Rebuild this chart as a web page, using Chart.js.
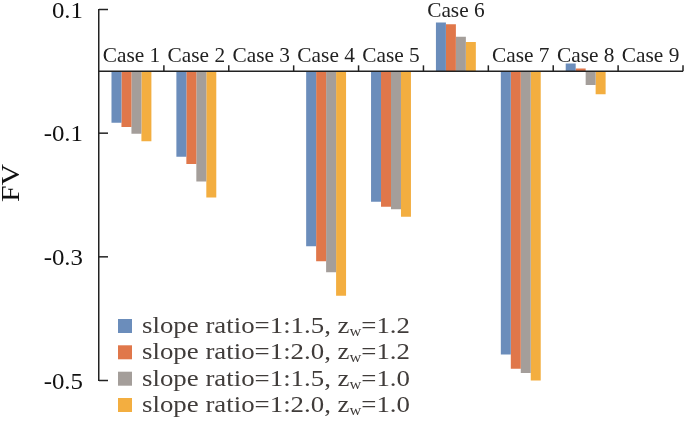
<!DOCTYPE html>
<html>
<head>
<meta charset="utf-8">
<script src="https://cdn.jsdelivr.net/npm/chart.js@4.4.1/dist/chart.umd.min.js"></script>
<style>
  html, body { margin: 0; padding: 0; background: #fff; }
  #wrap { width: 685px; height: 423px; position: relative; }
</style>
</head>
<body>
<div id="wrap"><canvas id="fv"></canvas></div>
<script>
// categories along the zero line
const cases = ['Case 1', 'Case 2', 'Case 3', 'Case 4', 'Case 5', 'Case 6', 'Case 7', 'Case 8', 'Case 9'];

// FV for each setting
const r15z12 = [-0.083, -0.138, 0, -0.283, -0.211, 0.079, -0.458, 0.0125, 0];
const r20z12 = [-0.090, -0.150, 0, -0.307, -0.219, 0.076, -0.481, 0.0045, 0];
const r15z10 = [-0.101, -0.178, 0, -0.325, -0.223, 0.056, -0.488, -0.022, 0];
const r20z10 = [-0.113, -0.204, 0, -0.363, -0.235, 0.0475, -0.505, -0.037, 0];

// legend parts
const slopeRatios = ['1:1.5', '1:2.0', '1:1.5', '1:2.0'];
const zwValues = ['1.2', '1.2', '1.0', '1.0'];
const colors = ['#6b8dbb', '#e0774a', '#a49e9a', '#f3ae40'];

// y axis
const yTicks = [0.1, -0.1, -0.3, -0.5];
const yTickLabels = ['0.1', '-0.1', '-0.3', '-0.5'];

const serif = '"Liberation Serif", "Times New Roman", serif';

// draws text squeezed/stretched along x
function wideText(ctx, text, x, y, sx) {
  ctx.save();
  ctx.translate(x, y);
  ctx.scale(sx, 1);
  ctx.fillText(text, 0, 0);
  ctx.restore();
}

const decor = {
  id: 'decor',
  afterDatasetsDraw(chart) {
    const ctx = chart.ctx;
    const xs = chart.scales.x;
    const ys = chart.scales.y;
    const area = chart.chartArea;
    const y0 = ys.getPixelForValue(0);

    ctx.save();
    ctx.strokeStyle = '#222';
    ctx.lineWidth = 1.5;

    // zero line
    ctx.beginPath();
    ctx.moveTo(area.left, y0);
    ctx.lineTo(area.right, y0);
    ctx.stroke();

    // category boundary ticks, pointing up
    for (let i = 0; i < cases.length; i++) {
      let bx;
      if (i < cases.length - 1) {
        bx = (xs.getPixelForValue(i) + xs.getPixelForValue(i + 1)) / 2;
      } else {
        bx = area.right;
      }
      ctx.beginPath();
      ctx.moveTo(bx, y0);
      ctx.lineTo(bx, y0 - 6);
      ctx.stroke();
    }

    // y ticks, pointing into the plot
    yTicks.forEach(v => {
      const py = ys.getPixelForValue(v);
      ctx.beginPath();
      ctx.moveTo(area.left, py);
      ctx.lineTo(area.left + 9, py);
      ctx.stroke();
    });

    // y tick labels
    ctx.fillStyle = '#111';
    ctx.font = '23px ' + serif;
    ctx.textAlign = 'right';
    ctx.textBaseline = 'middle';
    yTicks.forEach((v, i) => {
      const py = ys.getPixelForValue(v);
      wideText(ctx, yTickLabels[i], area.left - 16, py + 2, 1.08);
    });

    // axis title
    ctx.save();
    ctx.translate(19, 183);
    ctx.rotate(-Math.PI / 2);
    ctx.font = '26px ' + serif;
    ctx.textAlign = 'center';
    ctx.textBaseline = 'alphabetic';
    wideText(ctx, 'FV', 0, 0, 1.15);
    ctx.restore();

    // category labels above the zero line, or above tall positive bars
    ctx.font = '22px ' + serif;
    ctx.textAlign = 'center';
    ctx.textBaseline = 'alphabetic';
    ctx.fillStyle = '#222';
    cases.forEach((c, i) => {
      const px = xs.getPixelForValue(i);
      const top = Math.max(r15z12[i], r20z12[i], r15z10[i], r20z10[i]);
      let py = y0 - 9;
      if (top > 0.03) py = ys.getPixelForValue(top) - 5;
      wideText(ctx, c, px, py, 0.97);
    });

    // legend
    const rowY = [326, 352.3, 378.7, 405];
    const big = '23px ' + serif;
    const small = '14px ' + serif;
    ctx.textAlign = 'left';
    ctx.textBaseline = 'alphabetic';
    ctx.font = big;
    const w1 = ctx.measureText('slope ratio=1:1.5, z').width;
    const w3 = ctx.measureText('=1.2').width;
    ctx.font = small;
    const w2 = ctx.measureText('w').width;
    const sx = 268 / (w1 + w2 + w3);
    slopeRatios.forEach((r, i) => {
      const cy = rowY[i];
      ctx.fillStyle = colors[i];
      ctx.fillRect(118, cy - 7, 14, 14);
      ctx.fillStyle = '#403c3a';
      ctx.save();
      ctx.translate(142, cy + 7);
      ctx.scale(sx, 1);
      const head = 'slope ratio=' + r + ', z';
      ctx.font = big;
      ctx.fillText(head, 0, 0);
      let x = ctx.measureText(head).width;
      ctx.font = small;
      ctx.fillText('w', x, 3);
      x += ctx.measureText('w').width;
      ctx.font = big;
      ctx.fillText('=' + zwValues[i], x, 0);
      ctx.restore();
    });

    ctx.restore();
  }
};

new Chart(document.getElementById('fv'), {
  type: 'bar',
  data: {
    labels: cases,
    datasets: [
      { label: 'slope ratio=1:1.5, zw=1.2', data: r15z12, backgroundColor: colors[0] },
      { label: 'slope ratio=1:2.0, zw=1.2', data: r20z12, backgroundColor: colors[1] },
      { label: 'slope ratio=1:1.5, zw=1.0', data: r15z10, backgroundColor: colors[2] },
      { label: 'slope ratio=1:2.0, zw=1.0', data: r20z10, backgroundColor: colors[3] }
    ]
  },
  options: {
    responsive: true,
    maintainAspectRatio: false,
    animation: false,
    datasets: {
      bar: { barPercentage: 1, categoryPercentage: 0.615, borderWidth: 0 }
    },
    layout: { padding: { top: 9.5, right: 2, bottom: 42.5, left: 0 } },
    plugins: {
      legend: { display: false },
      tooltip: { enabled: false }
    },
    scales: {
      x: { display: false },
      y: {
        min: -0.5,
        max: 0.1,
        ticks: { display: false },
        grid: { display: false },
        border: { display: true, color: '#222', width: 1.5 },
        afterFit(scale) { scale.width = 99; }
      }
    }
  },
  plugins: [decor]
});
</script>
</body>
</html>
